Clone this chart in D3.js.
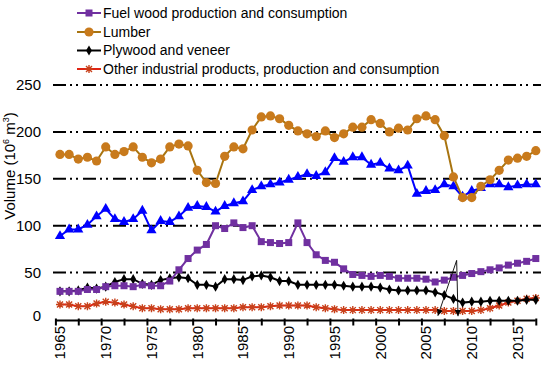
<!DOCTYPE html>
<html>
<head>
<meta charset="utf-8">
<script src="https://cdn.jsdelivr.net/npm/d3@7"></script>
<style>
  body { margin: 0; background: #fff; }
  svg text { fill: #000; }
</style>
</head>
<body>
<script>
const width = 550, height = 367;

const years = [1965, 1966, 1967, 1968, 1969, 1970, 1971, 1972, 1973, 1974,
  1975, 1976, 1977, 1978, 1979, 1980, 1981, 1982, 1983, 1984,
  1985, 1986, 1987, 1988, 1989, 1990, 1991, 1992, 1993, 1994,
  1995, 1996, 1997, 1998, 1999, 2000, 2001, 2002, 2003, 2004,
  2005, 2006, 2007, 2008, 2009, 2010, 2011, 2012, 2013, 2014,
  2015, 2016, 2017];

// volume, 10^6 m3
const fuelWood = [30, 30, 30, 32, 32, 35, 36, 36, 35, 37,
  36, 36, 41, 53, 65, 74, 80, 100, 97, 103,
  98, 100, 83, 82, 81, 82, 103, 82, 69, 63,
  61, 54, 48, 47, 46, 47, 46, 44, 44, 44,
  43, 40, 42, 45, 47, 49, 51, 53, 55, 58,
  60, 62, 65];
const lumber = [176, 176, 171, 173, 169, 184, 176, 179, 184, 173,
  167, 171, 184, 187, 185, 159, 146, 145, 174, 184,
  182, 202, 216, 217, 214, 207, 201, 198, 195, 201,
  194, 198, 205, 205, 213, 209, 200, 204, 202, 214,
  217, 213, 196, 152, 130, 130, 142, 149, 159, 170,
  172, 174, 180];
// blue triangle series (no legend entry in the source)
const blueSeries = [89, 96, 96, 101, 110, 118, 107, 104, 107, 116,
  95, 105, 104, 110, 119, 121, 120, 115, 121, 124,
  126, 138, 142, 144, 146, 149, 152, 155, 153, 157,
  172, 168, 173, 173, 165, 167, 161, 159, 164, 134,
  137, 138, 144, 142, 131, 137, 140, 144, 144, 141,
  143, 144, 144];
const plywood = [30, 30, 31, 34, 33, 35, 40, 43, 43, 38,
  37, 42, 44, 45, 44, 37, 37, 35, 43, 43,
  42, 46, 47, 45, 41, 41, 37, 37, 37, 37,
  37, 36, 35, 35, 35, 34, 32, 31, 31, 31,
  31, 29, 26, 22, 18, 19, 19, 20, 20, 20,
  20, 21, 21];
const otherIndustrial = [16, 16, 14, 14, 17, 19, 18, 16, 14, 12,
  12, 11, 11, 11, 12, 12, 12, 12, 12, 12,
  13, 13, 13, 14, 15, 15, 15, 15, 13, 12,
  11, 10, 10, 10, 10, 10, 10, 10, 10, 10,
  10, 10, 9, 9, 9, 9, 10, 12, 15, 18,
  20, 22, 23];

const yTicks = [0, 50, 100, 150, 200, 250];
const xLabels = [1965, 1970, 1975, 1980, 1985, 1990, 1995, 2000, 2005, 2010, 2015];

// arrows: [year, value] apex and tips
const arrowApex = [2008.35, 63];
const arrowTips = [[2006.3, 4], [2008.5, 3.5]];

const font = "'Liberation Sans', Arial, sans-serif";

const svg = d3.select("body").append("svg")
  .attr("width", width)
  .attr("height", height)
  .attr("font-family", font);

const defs = svg.append("defs");
defs.append("marker")
  .attr("id", "arrowhead")
  .attr("viewBox", "0 0 10 10")
  .attr("refX", 10).attr("refY", 5)
  .attr("markerWidth", 7).attr("markerHeight", 7)
  .attr("orient", "auto")
  .append("path")
  .attr("d", "M0,0L10,5L0,10Z")
  .attr("fill", "#000");

const x = d3.scaleLinear().domain([1964.5, 2017]).range([55.4, 535.8]);
const y = d3.scaleLinear().domain([0, 250]).range([319.5, 85]);

// gridlines
svg.append("g")
  .selectAll("line")
  .data(yTicks.filter(d => d > 0))
  .enter().append("line")
  .attr("x1", 53).attr("x2", 541)
  .attr("y1", d => y(d)).attr("y2", d => y(d))
  .attr("stroke", "#000")
  .attr("stroke-width", 2)
  .attr("stroke-dasharray", "13,4,2,4,2,5");

// y tick labels
svg.append("g")
  .selectAll("text")
  .data(yTicks)
  .enter().append("text")
  .attr("x", 41)
  .attr("y", d => y(d) - (d === 0 ? 4 : 0))
  .attr("dy", "0.35em")
  .attr("text-anchor", "end")
  .style("font-size", "15px")
  .text(d => d);

// y title
svg.append("text")
  .attr("transform", "translate(15,166) rotate(-90)")
  .attr("text-anchor", "middle")
  .style("font-size", "15px")
  .call(t => {
    t.append("tspan").text("Volume (10");
    t.append("tspan").attr("dy", -6).style("font-size", "9px").text("6");
    t.append("tspan").attr("dy", 6).text(" m");
    t.append("tspan").attr("dy", -6).style("font-size", "9px").text("3");
    t.append("tspan").attr("dy", 6).text(")");
  });

// x axis
const xAxis = d3.axisBottom(x)
  .tickValues(d3.range(1964.5, 2017.1, 2.5))
  .tickSize(5)
  .tickFormat("");
const gx = svg.append("g")
  .attr("transform", `translate(0,${y(0) + 1})`)
  .call(xAxis);
gx.select(".domain").attr("stroke", "#000").attr("stroke-width", 2.2).attr("d", `M${x(1964.5)},0H${x(2017)}`);
gx.selectAll(".tick line").attr("stroke", "#000").attr("stroke-width", 2).attr("y1", -2);

svg.append("g")
  .selectAll("text")
  .data(xLabels)
  .enter().append("text")
  .attr("transform", d => `translate(${x(d) + 5.5},326) rotate(-90)`)
  .attr("text-anchor", "end")
  .style("font-size", "15px")
  .text(d => d);

const line = d3.line()
  .x((d, i) => x(years[i]))
  .y(d => y(d));

function drawLine(values, color) {
  svg.append("path")
    .datum(values)
    .attr("fill", "none")
    .attr("stroke", color)
    .attr("stroke-width", 2)
    .attr("d", line);
}

const sym = (type, size) => d3.symbol().type(type).size(size)();
const asterisk = "M-4,0H4M0,-4V4M-3,-3L3,3M-3,3L3,-3";

function drawMarkers(values, draw) {
  const g = svg.append("g");
  values.forEach((v, i) => draw(g.append("g").attr("transform", `translate(${x(years[i])},${y(v)})`)));
}

// other industrial products
drawLine(otherIndustrial, "#e02414");
drawMarkers(otherIndustrial, g => g.append("path").attr("d", asterisk).attr("stroke", "#c8401a").attr("stroke-width", 1.4));

// plywood
drawLine(plywood, "#000");
drawMarkers(plywood, g => g.append("path").attr("d", sym(d3.symbolDiamond, 30)).attr("fill", "#000"));

// fuel wood
drawLine(fuelWood, "#7030a0");
drawMarkers(fuelWood, g => g.append("rect").attr("x", -3.5).attr("y", -3.5).attr("width", 7).attr("height", 7).attr("fill", "#7030a0"));

// blue series
drawLine(blueSeries, "#0000ff");
drawMarkers(blueSeries, g => g.append("path").attr("d", sym(d3.symbolTriangle, 45)).attr("fill", "#0000ff"));

// lumber
drawLine(lumber, "#a87410");
drawMarkers(lumber, g => g.append("circle").attr("r", 4.6).attr("fill", "#c87a1c"));

// arrows
arrowTips.forEach(t => {
  svg.append("line")
    .attr("x1", x(arrowApex[0])).attr("y1", y(arrowApex[1]))
    .attr("x2", x(t[0])).attr("y2", y(t[1]))
    .attr("stroke", "#000")
    .attr("stroke-width", 0.9)
    .attr("marker-end", "url(#arrowhead)");
});

// legend
const legendItems = [
  { name: "Fuel wood production and consumption", color: "#7030a0", mark: "square" },
  { name: "Lumber", color: "#a87410", mark: "circle" },
  { name: "Plywood and veneer", color: "#000", mark: "diamond" },
  { name: "Other industrial products, production and consumption", color: "#e02414", mark: "asterisk" }
];
const legendY = [13, 32, 50.5, 69];

const legend = svg.append("g");
legendItems.forEach((d, i) => {
  const g = legend.append("g").attr("transform", `translate(0,${legendY[i]})`);
  g.append("line").attr("x1", 77).attr("x2", 101).attr("stroke", d.color).attr("stroke-width", 2);
  const m = g.append("g").attr("transform", "translate(89,0)");
  if (d.mark === "square") m.append("rect").attr("x", -3.5).attr("y", -3.5).attr("width", 7).attr("height", 7).attr("fill", d.color);
  if (d.mark === "circle") m.append("circle").attr("r", 4.6).attr("fill", "#c87a1c");
  if (d.mark === "diamond") m.append("path").attr("d", sym(d3.symbolDiamond, 30)).attr("fill", "#000");
  if (d.mark === "asterisk") m.append("path").attr("d", asterisk).attr("stroke", "#c8401a").attr("stroke-width", 1.4);
  g.append("text")
    .attr("x", 103)
    .attr("dy", "0.35em")
    .style("font-size", "14px")
    .text(d.name);
});
</script>
</body>
</html>
